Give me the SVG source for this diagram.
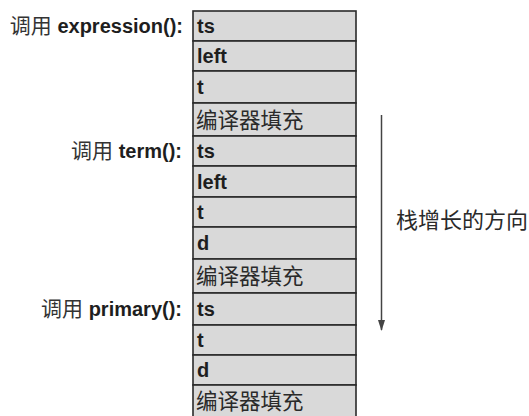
<svg xmlns="http://www.w3.org/2000/svg" width="529" height="416" viewBox="0 0 529 416">
<defs>
<marker id="ah" markerWidth="11" markerHeight="7" refX="10" refY="3.5" orient="auto" markerUnits="userSpaceOnUse" viewBox="0 0 11 7">
<path d="M0,0 L11,3.5 L0,7 Z" fill="#444"/>
</marker>
</defs>
<style>
.cell{fill:#d9d9d9;stroke:#2a2a2a;stroke-width:1.6}
.lat{font-family:"Liberation Sans","Noto Sans",sans-serif;font-weight:bold;font-size:20px;fill:#1e1e1e}
.cjk{font-family:"Noto Sans CJK SC",sans-serif;font-size:21.5px;fill:#2a2a2a}
.lbl{font-family:"Liberation Sans","Noto Sans CJK SC",sans-serif;font-size:20px;fill:#1e1e1e;text-anchor:end}
.lbl .c{font-family:"Noto Sans CJK SC",sans-serif;font-weight:normal;font-size:21px;fill:#333}
.lbl .b{font-weight:bold}
</style>
<rect width="529" height="416" fill="#ffffff"/>
<g id="frame1">
<g id="row1"><rect class="cell" x="193" y="11" width="163" height="30"/><text class="lat" x="197" y="33">ts</text></g>
<g id="row2"><rect class="cell" x="193" y="41" width="163" height="30"/><text class="lat" x="197" y="63">left</text></g>
<g id="row3"><rect class="cell" x="193" y="71" width="163" height="32"/><text class="lat" x="197" y="94">t</text></g>
<g id="row4"><rect class="cell" x="193" y="103" width="163" height="33"/><text class="cjk" x="196" y="128">编译器填充</text></g>
</g>
<g id="frame2">
<g id="row5"><rect class="cell" x="193" y="136" width="163" height="30"/><text class="lat" x="197" y="158">ts</text></g>
<g id="row6"><rect class="cell" x="193" y="166" width="163" height="31"/><text class="lat" x="197" y="189">left</text></g>
<g id="row7"><rect class="cell" x="193" y="197" width="163" height="30"/><text class="lat" x="197" y="219">t</text></g>
<g id="row8"><rect class="cell" x="193" y="227" width="163" height="32"/><text class="lat" x="197" y="250">d</text></g>
<g id="row9"><rect class="cell" x="193" y="259" width="163" height="34"/><text class="cjk" x="196" y="284">编译器填充</text></g>
</g>
<g id="frame3">
<g id="row10"><rect class="cell" x="193" y="293" width="163" height="32"/><text class="lat" x="197" y="316">ts</text></g>
<g id="row11"><rect class="cell" x="193" y="325" width="163" height="30"/><text class="lat" x="197" y="347">t</text></g>
<g id="row12"><rect class="cell" x="193" y="355" width="163" height="30"/><text class="lat" x="197" y="377">d</text></g>
<g id="row13"><rect class="cell" x="193" y="385" width="163" height="33"/><text class="cjk" x="196" y="409">编译器填充</text></g>
</g>
<g id="label-expression"><text class="lbl" x="183" y="33"><tspan class="c">调用</tspan><tspan class="b"> expression():</tspan></text></g>
<g id="label-term"><text class="lbl" x="182" y="158"><tspan class="c">调用</tspan><tspan class="b"> term():</tspan></text></g>
<g id="label-primary"><text class="lbl" x="182" y="316"><tspan class="c">调用</tspan><tspan class="b"> primary():</tspan></text></g>
<g id="connectors">
<line x1="381.5" y1="115" x2="381.5" y2="330" stroke="#444" stroke-width="1.5" marker-end="url(#ah)"/>
</g>
<g id="direction-label"><text class="cjk" x="396" y="228" style="font-size:22px">栈增长的方向</text></g>
</svg>
